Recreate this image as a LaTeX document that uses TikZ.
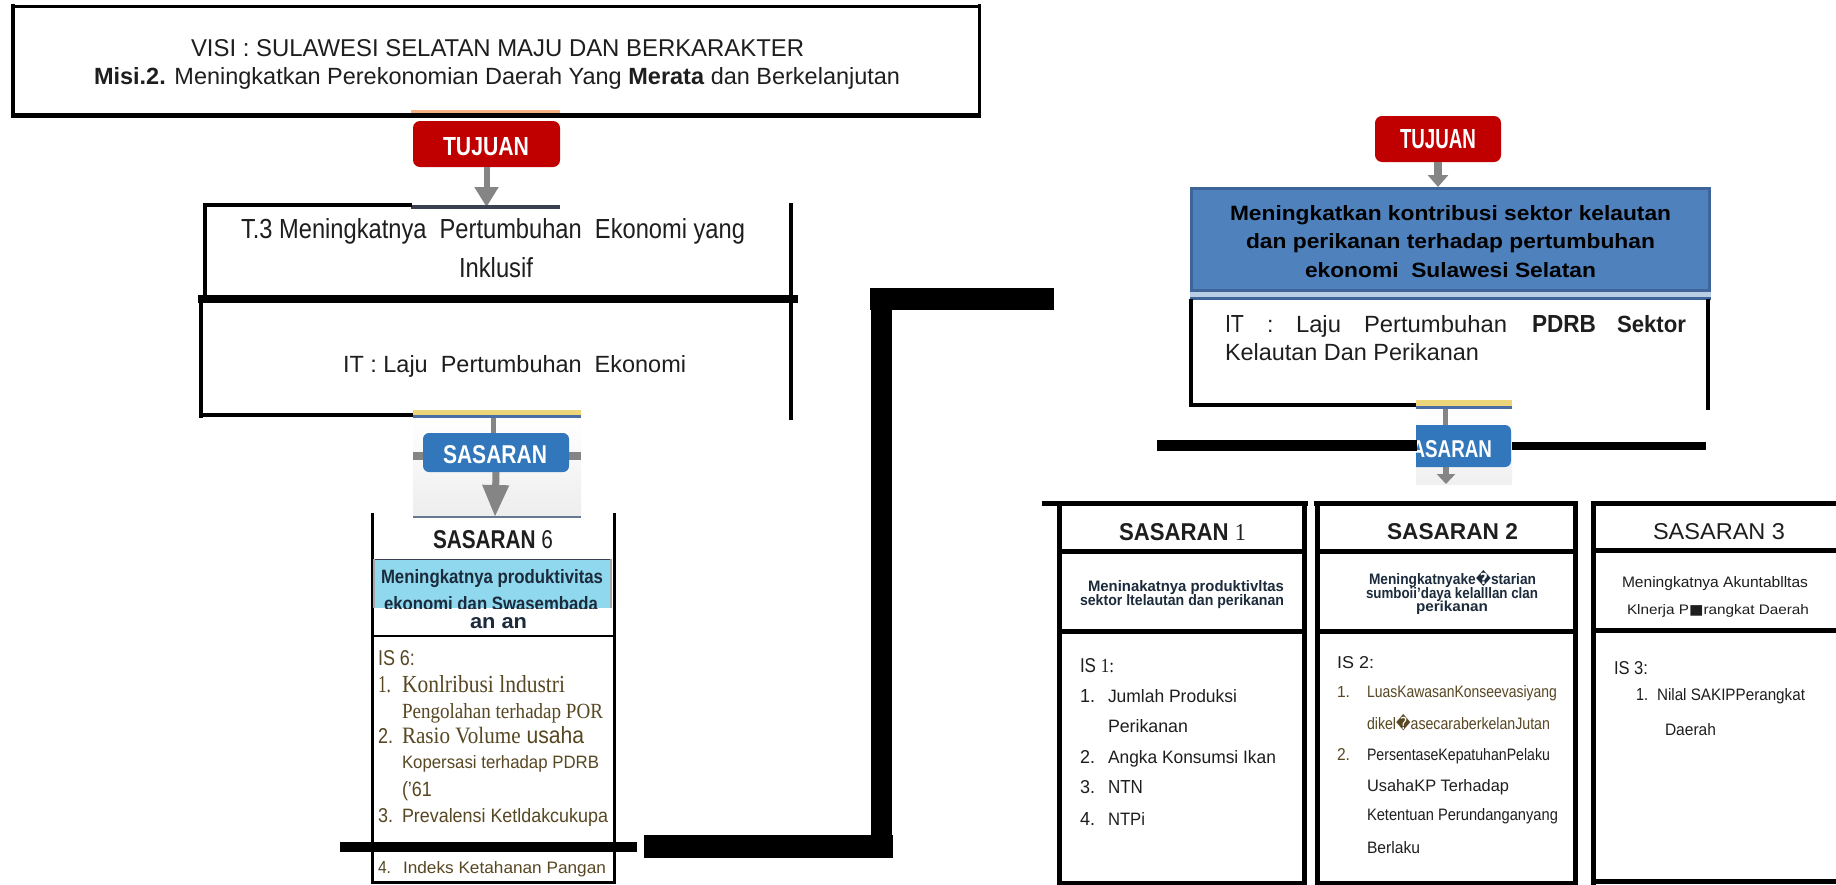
\documentclass[tikz,border=0pt]{standalone}
\usepackage{fontspec}
\setmainfont{Liberation Sans}
\newfontfamily\srf{Liberation Serif}
\newfontfamily\dvs{DejaVu Sans}
\usepackage{graphicx}
\usetikzlibrary{arrows.meta}
\definecolor{tred}{HTML}{C00000}
\definecolor{sblue}{HTML}{3277BC}
\definecolor{bbox}{HTML}{4F81BD}
\definecolor{bboxd}{HTML}{3D659A}
\definecolor{bboxl}{HTML}{B9CDE5}
\definecolor{cyanb}{HTML}{8FD8EE}
\definecolor{arrg}{HTML}{858585}
\definecolor{orng}{HTML}{F4B183}
\definecolor{ylw}{HTML}{EDD67A}
\definecolor{bline}{HTML}{4A6FA5}
\definecolor{slate}{HTML}{3A4050}
\definecolor{olv}{HTML}{574722}
\definecolor{navy}{HTML}{1C2B3C}
\definecolor{dtxt}{HTML}{1E1E1E}
\newcommand{\tx}[3]{\resizebox{#1pt}{#2pt}{#3}}
\begin{document}
\begin{tikzpicture}[x=1pt,y=-1pt,
  lbl/.style={inner sep=0pt,outer sep=0pt,anchor=base west,text=dtxt},
  garrow/.style={draw=arrg,line width=6pt,-{Triangle[width=23pt,length=20pt]}},
  rbox/.style={fill=tred,rounded corners=7pt,inner sep=0pt,outer sep=0pt},
  sbox/.style={fill=sblue,rounded corners=6pt,inner sep=0pt,outer sep=0pt}]
\useasboundingbox (0,0) rectangle (1836,884);
\fill[white] (0,0) rectangle (1836,884);

% ---------- top box ----------
\draw[line width=3pt] (12,6) -- (980,6);
\draw[line width=4pt] (13,4) -- (13,117);
\draw[line width=3pt] (979,4) -- (979,116);
\draw[line width=5pt] (11,115) -- (981,115);
\fill[orng] (411,110) rectangle (560,113);
\node[lbl] (visi) at (191,56) {\tx{613}{17}{VISI : SULAWESI SELATAN MAJU DAN BERKARAKTER}};
\node[lbl] (misi) at (94,84) {\tx{806}{17}{\textbf{Misi.2.} Meningkatkan Perekonomian Daerah Yang \textbf{Merata} dan Berkelanjutan}};

% ---------- left tujuan ----------
\node[rbox,minimum width=147pt,minimum height=46pt] (tujL) at (486.5,144) {};
\node[lbl,text=white] (tujLt) at (443,155) {\tx{86}{18}{\bfseries TUJUAN}};
\coordinate (t3in) at (486.5,207);
\draw[garrow] (tujL.south) -- (t3in);
\fill[slate] (411,205) rectangle (560,209);

% ---------- T.3 box ----------
\draw[line width=4pt] (203,205) -- (412,205);
\draw[line width=4pt] (205,203) -- (205,299);
\draw[line width=4pt] (791,203) -- (791,420);
\draw[line width=8pt] (198,299) -- (798,299);
\draw[line width=4pt] (201,299) -- (201,418);
\draw[line width=4pt] (199,415) -- (413,415);
\node[lbl] (t3a) at (241,238) {\tx{504}{20}{T.3 Meningkatnya\ \ Pertumbuhan\ \ Ekonomi yang}};
\node[lbl] (t3b) at (459,277) {\tx{74}{20}{Inklusif}};
\node[lbl] (itL) at (343,372) {\tx{343}{17}{IT : Laju\ \ Pertumbuhan\ \ Ekonomi}};

% ---------- left sasaran ----------
\fill[top color=white,bottom color=gray!14] (413,418) rectangle (581,517);
\fill[ylw] (413,410) rectangle (581,415);
\fill[bline] (413,415) rectangle (581,418);
\fill[arrg] (413,452) rectangle (424,460);
\fill[arrg] (568,452) rectangle (581,460);
\node[sbox,minimum width=146pt,minimum height=39pt] (sasL) at (496,452.5) {};
\coordinate (sasLin) at (493.5,418);
\draw[arrg,line width=5pt] (sasLin) -- (493.5,433);
\node[lbl,text=white] (sasLt) at (443,463) {\tx{104}{18}{\bfseries SASARAN}};
\coordinate (sasLout) at (495,517);
\draw[draw=arrg,line width=7pt,-{Triangle[width=25pt,length=32pt]}] (sasL.south) -- (sasLout);
\fill[gray!55!bline] (413,515.5) rectangle (581,518);

% ---------- column sasaran 6 ----------
\draw[line width=3pt] (372,513) -- (372,884);
\draw[line width=3pt] (614,513) -- (614,884);
\draw[line width=3pt] (372,882.5) -- (614,882.5);
\node[lbl] (c6h) at (433,548) {\tx{120}{18}{\bfseries SASARAN \mdseries 6}};
\fill[cyanb] (373,559) rectangle (612,608);
\draw[slate,line width=1.5pt] (373,559.5) -- (612,559.5);
\draw[gray!70,line width=1.5pt] (374,559) -- (374,608);
\draw[gray!70,line width=1.5pt] (611,559) -- (611,608);
\begin{scope}
\clip (373,559) rectangle (612,608);
\node[lbl,text=navy] (c6d1) at (381,583) {\tx{222}{14}{\bfseries Meningkatnya produktivitas}};
\node[lbl,text=navy] (c6d2) at (384,610) {\tx{214}{14}{\bfseries ekonomi dan Swasembada}};
\end{scope}
\node[lbl,text=navy] (c6d3) at (470,628) {\tx{57}{11}{\bfseries an an}};
\draw[line width=2pt] (372,636) -- (614,636);
\node[lbl,text=olv] (c6is) at (378,665) {\tx{37}{15}{IS 6:}};
\node[lbl,text=olv] (c6n1) at (378,692) {\tx{13}{16}{\srf 1.}};
\node[lbl,text=olv] (c6i1) at (402,692) {\tx{163}{17}{\srf Konlribusi lndustri}};
\node[lbl,text=olv] (c6i1b) at (402,718) {\tx{201}{15}{\srf Pengolahan terhadap POR}};
\node[lbl,text=olv] (c6n2) at (378,743) {\tx{15}{15}{2.}};
\node[lbl,text=olv] (c6i2) at (402,743) {\tx{182}{17}{{\srf Rasio Volume} usaha}};
\node[lbl,text=olv] (c6i2b) at (402,768) {\tx{197}{13}{Kopersasi terhadap PDRB}};
\node[lbl,text=olv] (c6i2c) at (402,796) {\tx{30}{15}{('61}};
\node[lbl,text=olv] (c6n3) at (378,822) {\tx{15}{14}{3.}};
\node[lbl,text=olv] (c6i3) at (402,822) {\tx{206}{14}{Prevalensi Ketldakcukupa}};
\fill (340,842) rectangle (637,852);
\node[lbl,text=olv] (c6n4) at (378,873) {\tx{13}{12}{4.}};
\node[lbl,text=olv] (c6i4) at (403,873) {\tx{203}{12}{Indeks Ketahanan Pangan}};

% ---------- big connector ----------
\fill (870,288) rectangle (1054,310);
\fill (871,310) rectangle (892,835);
\fill (644,835) rectangle (893,858);

% ---------- right tujuan ----------
\node[rbox,minimum width=126pt,minimum height=46pt] (tujR) at (1438,139) {};
\node[lbl,text=white] (tujRt) at (1400,148) {\tx{76}{19}{\bfseries TUJUAN}};
\node[fill=bbox,draw=bboxd,line width=3pt,minimum width=518pt,minimum height=102pt,inner sep=0pt,outer sep=0pt] (tjR) at (1450.5,239.5) {};
\coordinate (tjRin) at (1438,187);
\draw[draw=arrg,line width=8pt,-{Triangle[width=20pt,length=12pt]}] (tujR.south) -- (tjRin);
\node[lbl,text=black] (tjR1) at (1230,220) {\tx{441}{15}{\bfseries Meningkatkan kontribusi sektor kelautan}};
\node[lbl,text=black] (tjR2) at (1246,248) {\tx{409}{15}{\bfseries dan perikanan terhadap pertumbuhan}};
\node[lbl,text=black] (tjR3) at (1305,277) {\tx{291}{15}{\bfseries ekonomi\ \ Sulawesi Selatan}};
\fill[bboxl] (1190,292) rectangle (1711,297);
\draw[bboxd,line width=3pt] (1190,298.5) -- (1711,298.5);

% IT right box
\draw[line width=4pt] (1191,299) -- (1191,407);
\draw[line width=4pt] (1708,299) -- (1708,410);
\draw[line width=4pt] (1189,405) -- (1416,405);
\node[lbl] (itR1) at (1225,332) {\tx{19}{17}{IT}};
\node[lbl] (itR2) at (1267,332) {\fontsize{23}{24}\selectfont :};
\node[lbl] (itR3) at (1296,332) {\tx{45}{17}{Laju}};
\node[lbl] (itR4) at (1364,332) {\tx{143}{17}{Pertumbuhan}};
\node[lbl] (itR5) at (1532,332) {\tx{64}{17}{\bfseries PDRB}};
\node[lbl] (itR6) at (1617,332) {\tx{69}{17}{\bfseries Sektor}};
\node[lbl] (itR7) at (1225,360) {\tx{254}{17}{Kelautan Dan Perikanan}};

% right sasaran (clipped image)
\fill[top color=white,bottom color=gray!12] (1416,409) rectangle (1512,484);
\fill[ylw] (1416,400) rectangle (1512,406);
\fill[bline] (1416,406) rectangle (1512,409);
\begin{scope}
\clip (1416,409) rectangle (1512,484);
\node[sbox,minimum width=146pt,minimum height=42pt] (sasR) at (1438,446) {};
\node[lbl,text=white] (sasRt) at (1399,457) {\tx{93}{17}{\bfseries SASARAN}};
\coordinate (sasRin) at (1445,409);
\draw[arrg,line width=5pt] (sasRin) -- (1445,425);
\coordinate (sasRout) at (1446,484);
\draw[draw=arrg,line width=6pt,-{Triangle[width=18pt,length=10pt]}] (1446,467) -- (sasRout);
\end{scope}
\fill (1157,440) rectangle (1417,451);
\fill (1512,442) rectangle (1706,450);

% ---------- sasaran 1 ----------
\draw[line width=5pt] (1042,503) -- (1308,503);
\draw[line width=5pt] (1059,503) -- (1059,886);
\draw[line width=5pt] (1304,503) -- (1304,886);
\draw[line width=5pt] (1059,551) -- (1304,551);
\draw[line width=5pt] (1059,631) -- (1304,631);
\draw[line width=5pt] (1059,883) -- (1304,883);
\node[lbl] (s1h) at (1119,540) {\tx{127}{17}{\bfseries SASARAN {\srf\mdseries 1}}};
\node[lbl,text=navy] (s1d1) at (1088,591) {\tx{196}{11}{\bfseries Meninakatnya produktivltas}};
\node[lbl,text=navy] (s1d2) at (1080,605) {\tx{204}{11}{\bfseries sektor ltelautan dan perikanan}};
\node[lbl] (s1is) at (1080,672) {\tx{34}{14}{IS {\srf 1:}}};
\node[lbl] (s1n1) at (1080,702) {\tx{15}{13}{1.}};
\node[lbl] (s1i1) at (1108,702) {\tx{129}{13}{Jumlah Produksi}};
\node[lbl] (s1i1b) at (1108,732) {\tx{80}{13}{Perikanan}};
\node[lbl] (s1n2) at (1080,763) {\tx{15}{13}{2.}};
\node[lbl] (s1i2) at (1108,763) {\tx{168}{13}{Angka Konsumsi Ikan}};
\node[lbl] (s1n3) at (1080,793) {\tx{15}{13}{3.}};
\node[lbl] (s1i3) at (1108,793) {\tx{35}{13}{NTN}};
\node[lbl] (s1n4) at (1080,825) {\tx{15}{13}{4.}};
\node[lbl] (s1i4) at (1108,825) {\tx{37}{13}{NTPi}};

% ---------- sasaran 2 ----------
\draw[line width=5pt] (1314,503) -- (1578,503);
\draw[line width=5pt] (1317,503) -- (1317,886);
\draw[line width=5pt] (1575,503) -- (1575,886);
\draw[line width=5pt] (1317,551) -- (1575,551);
\draw[line width=5pt] (1317,631) -- (1575,631);
\draw[line width=5pt] (1317,883) -- (1575,883);
\node[lbl] (s2h) at (1387,539) {\tx{131}{16}{\bfseries SASARAN 2}};
\node[lbl,text=navy] (s2d1) at (1369,584) {\tx{167}{11}{\bfseries Meningkatnyake\smash{\dvs �}starian}};
\node[lbl,text=navy] (s2d2) at (1366,598) {\tx{172}{11}{\bfseries sumboii'daya kelalllan clan}};
\node[lbl,text=navy] (s2d3) at (1416,611) {\tx{72}{10.5}{\bfseries perikanan}};
\node[lbl] (s2is) at (1337,668) {\tx{37}{12}{IS 2:}};
\node[lbl,text=olv] (s2n1) at (1337,697) {\tx{13}{11}{1.}};
\node[lbl,text=olv] (s2i1) at (1367,697) {\tx{190}{12}{LuasKawasanKonseevasiyang}};
\node[lbl,text=olv] (s2i1b) at (1367,729) {\tx{183}{12}{dikel\smash{\dvs �}asecaraberkelanJutan}};
\node[lbl,text=olv] (s2n2) at (1337,760) {\tx{13}{12}{2.}};
\node[lbl] (s2i2) at (1367,760) {\tx{183}{12}{PersentaseKepatuhanPelaku}};
\node[lbl] (s2i2b) at (1367,791) {\tx{142}{12}{UsahaKP Terhadap}};
\node[lbl] (s2i2c) at (1367,820) {\tx{191}{12}{Ketentuan Perundanganyang}};
\node[lbl] (s2i2d) at (1367,853) {\tx{53}{12}{Berlaku}};

% ---------- sasaran 3 ----------
\draw[line width=5pt] (1591,503) -- (1840,503);
\draw[line width=5pt] (1593,503) -- (1593,886);
\draw[line width=5pt] (1593,550) -- (1840,550);
\draw[line width=5pt] (1593,630) -- (1840,630);
\draw[line width=5pt] (1593,881) -- (1840,881);
\node[lbl] (s3h) at (1653,539) {\tx{132}{16}{SASARAN 3}};
\node[lbl] (s3d1) at (1622,587) {\tx{186}{11}{Meningkatnya Akuntablltas}};
\node[lbl] (s3d2) at (1627,614) {\tx{182}{10}{Klnerja P\smash{\dvs ■}rangkat Daerah}};
\node[lbl] (s3is) at (1614,674) {\tx{34}{13}{IS 3:}};
\node[lbl] (s3n1) at (1636,700) {\tx{12}{12}{1.}};
\node[lbl] (s3i1) at (1657,700) {\tx{148}{12}{Nilal SAKIPPerangkat}};
\node[lbl] (s3i1b) at (1665,735) {\tx{51}{12}{Daerah}};
\end{tikzpicture}
\end{document}
